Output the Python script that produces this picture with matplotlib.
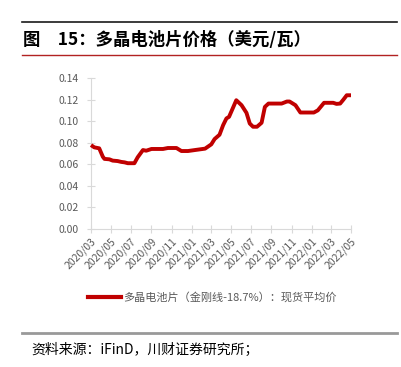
import numpy as np
import pandas as pd
import matplotlib
matplotlib.use('Agg')
import matplotlib.pyplot as plt
from matplotlib.lines import Line2D

plt.rcParams['font.family'] = ['Noto Sans CJK SC', 'DejaVu Sans']

dates = ['2020-03-01', '2020-03-11', '2020-03-26', '2020-04-06', '2020-04-11',
         '2020-04-26', '2020-05-06', '2020-05-21', '2020-06-01', '2020-06-11',
         '2020-06-21', '2020-07-11', '2020-07-21', '2020-08-06', '2020-08-16',
         '2020-09-01', '2020-10-06', '2020-10-21', '2020-11-16', '2020-12-01',
         '2020-12-21', '2021-01-11', '2021-02-11', '2021-03-02', '2021-03-12',
         '2021-03-27', '2021-04-07', '2021-04-17', '2021-04-25', '2021-05-17',
         '2021-06-02', '2021-06-17', '2021-06-27', '2021-07-07', '2021-07-19',
         '2021-08-02', '2021-08-12', '2021-08-23', '2021-10-02', '2021-10-18',
         '2021-10-26', '2021-11-13', '2021-11-28', '2022-01-08', '2022-01-20',
         '2022-02-08', '2022-03-08', '2022-03-18', '2022-03-29', '2022-04-08',
         '2022-04-18', '2022-05-01']
price = [0.0778, 0.0757, 0.0748, 0.0670, 0.0650,
         0.0646, 0.0634, 0.0630, 0.0622, 0.0618,
         0.0610, 0.0610, 0.0665, 0.0732, 0.0726,
         0.0742, 0.0742, 0.0751, 0.0751, 0.0723,
         0.0723, 0.0732, 0.0745, 0.0785, 0.0834,
         0.0874, 0.0963, 0.1025, 0.1040, 0.1194,
         0.1148, 0.1077, 0.0978, 0.0948, 0.0948,
         0.0985, 0.1132, 0.1163, 0.1163, 0.1182,
         0.1182, 0.1148, 0.1080, 0.1080, 0.1100,
         0.1170, 0.1170, 0.1160, 0.1163, 0.1200,
         0.1240, 0.1240]
xticks = ['2020/03', '2020/05', '2020/07', '2020/09', '2020/11', '2021/01', '2021/03',
          '2021/05', '2021/07', '2021/09', '2021/11', '2022/01', '2022/03', '2022/05']
yticks = [0.00, 0.02, 0.04, 0.06, 0.08, 0.10, 0.12, 0.14]

title = '图\u300015：多晶电池片价格（美元/瓦）'
legend_label = '多晶电池片（金刚线-18.7%）：现货平均价'
source = '资料来源：iFinD，川财证券研究所；'

red = '#c00000'
grid_gray = '#d9d9d9'
txt_gray = '#595959'

W, H = 401, 367
fig = plt.figure(figsize=(W / 100, H / 100), dpi=100)
ax = fig.add_axes([91 / W, 1 - 229 / H, 260 / W, 151 / H])

x = pd.to_datetime(dates)
ax.plot(x, price, color=red, lw=2.8, solid_capstyle='butt', clip_on=False, zorder=3)

tick_pos = pd.to_datetime([t.replace('/', '-') + '-01' for t in xticks])
ax.set_xticks(tick_pos)
ax.set_xticklabels(xticks, rotation=45, ha='right', va='top', rotation_mode='anchor')
ax.set_xlim(tick_pos[0], tick_pos[-1])
ax.set_ylim(0, 0.14)
ax.set_yticks(yticks)
ax.set_yticklabels(['%.2f' % v for v in yticks])

for s in ['top', 'right']:
    ax.spines[s].set_visible(False)
for s in ['left', 'bottom']:
    ax.spines[s].set_color(grid_gray)
    ax.spines[s].set_linewidth(0.8)
ax.tick_params(axis='both', direction='inout', length=6, width=0.8, color=grid_gray,
               labelcolor=txt_gray, labelsize=7.5, pad=2)
ax.tick_params(axis='y', pad=6)

# legend
leg = ax.legend([Line2D([0], [0], color=red, lw=3)], [legend_label],
                loc='center left', bbox_to_anchor=(88 / W, 1 - 297 / H),
                bbox_transform=fig.transFigure, frameon=False, fontsize=8,
                handlelength=3.0, handletextpad=0.2, borderaxespad=0, borderpad=0)
for t in leg.get_texts():
    t.set_color(txt_gray)

# header / footer decorations
fig.add_artist(Line2D([22 / W, 397 / W], [1 - 22 / H, 1 - 22 / H], color='#1a1a1a', lw=1.2))
fig.add_artist(Line2D([22 / W, 397 / W], [1 - 55 / H, 1 - 55 / H], color='#b22222', lw=1.0))
fig.add_artist(Line2D([22 / W, 397 / W], [1 - 333 / H, 1 - 333 / H], color='#999999', lw=2.0))
fig.text(23 / W, 1 - 40 / H, title, fontsize=12.5, fontweight='bold', va='center', ha='left')
fig.text(31 / W, 1 - 350 / H, source, fontsize=10, style='italic', va='center', ha='left')

fig.savefig('out.png', dpi=100)
